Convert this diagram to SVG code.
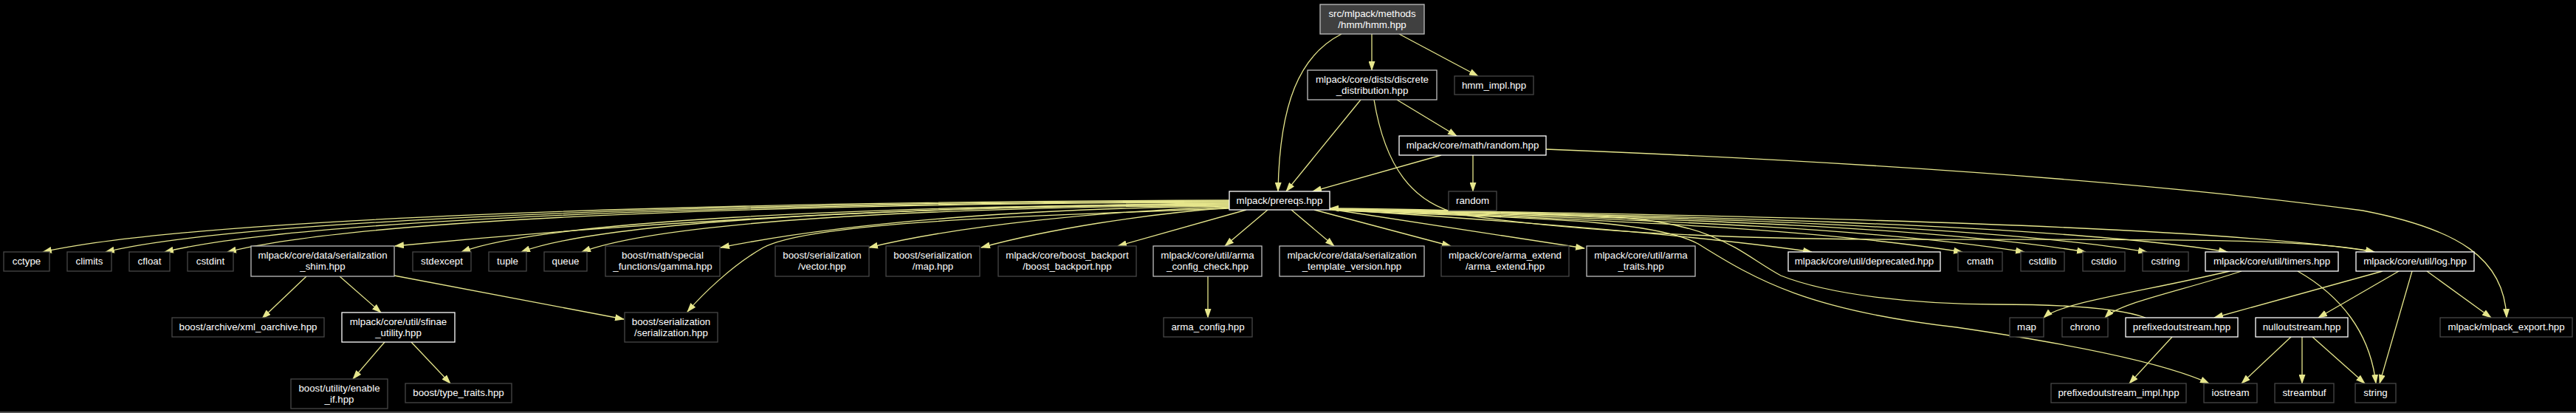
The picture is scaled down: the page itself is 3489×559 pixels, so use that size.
<svg xmlns="http://www.w3.org/2000/svg" width="3489" height="559" viewBox="0 0 3489 559">
<style>
.n rect{fill:#000;stroke-width:1.3}
.w rect{stroke:#ffffff}
.g rect{stroke:#bfbfbf}
.d rect{stroke:#474747}
.top rect{fill:#404040;stroke:#bfbfbf}
text{font-family:"Liberation Sans",Arial,Helvetica,sans-serif;font-size:13.3px;fill:#fff;text-anchor:middle}
#edges path{fill:none;stroke:#e6e68c;stroke-width:1.3;marker-end:url(#ah)}
</style>
<defs>
<marker id="ah" markerWidth="13" markerHeight="9" refX="12" refY="4.5" orient="auto" markerUnits="userSpaceOnUse">
<path d="M0,0 L13,4.5 L0,9 z" fill="#e6e68c"/>
</marker>
</defs>
<rect x="0" y="0" width="3489" height="559" fill="#000"/>
<rect x="0" y="557" width="3489" height="2" fill="#505050"/>

<g id="edges">
<path d="M1858,46 L1858,95"/>
<path d="M1895,46 L2002,103"/>
<path d="M1817,46 C1760,75 1733,140 1731,259"/>
<path d="M1843,135 L1742,259"/>
<path d="M1892,135 L1973,184"/>
<path d="M1861,135 C1875,220 1910,280 1990,292 C2150,315 2350,323 2550,324 C2850,325 3120,320 3216,341"/>
<path d="M1952,210 L1778,259"/>
<path d="M1995,210 L1995,259"/>
<path d="M2094,202 C2500,218 2900,245 3200,285 C3330,310 3392,350 3395,430"/>

<path d="M1665,271 C900,273 250,298 58,341"/>
<path d="M1665,272 C950,274 320,298 143,341"/>
<path d="M1665,273 C980,275 400,298 223,341"/>
<path d="M1665,274 C1000,276 480,298 308,341"/>
<path d="M1665,275 C1100,280 700,317 535,333"/>
<path d="M1665,276 C1150,279 735,300 625,341"/>
<path d="M1665,277 C1200,280 816,300 706,341"/>
<path d="M1665,278 C1250,281 898,300 788,341"/>
<path d="M1665,279 C1400,282 1150,300 976,335"/>
<path d="M1665,280 C1500,285 1300,305 1177,335"/>
<path d="M1665,281 C1550,290 1420,310 1329,335"/>
<path d="M1665,282 C1400,292 1100,300 1034,335 C990,360 950,400 931,422"/>
<path d="M1688,284 L1514,333"/>
<path d="M1717,284 L1659,333"/>
<path d="M1749,284 L1807,333"/>
<path d="M1780,284 L1965,333"/>
<path d="M1801,283 L2146,336"/>
<path d="M1801,283 C2000,296 2300,318 2454,341"/>
<path d="M1801,283 C2150,298 2420,305 2658,341"/>
<path d="M1801,283 C2150,296 2500,303 2742,341"/>
<path d="M1801,283 C2150,294 2580,301 2825,341"/>
<path d="M1801,283 C2150,292 2660,300 2908,341"/>
<path d="M1801,283 C2150,290 2770,300 3017,341"/>
<path d="M1801,283 C2150,288 2970,300 3216,341"/>
<path d="M1801,284 C2000,295 2230,292 2300,330 C2380,380 2450,420 2650,443 C2800,465 2930,490 2992,519"/>
<path d="M2906,430 C2870,417 2800,412 2704,412 C2600,412 2480,400 2412,373 C2360,345 2330,305 2200,295 C2050,285 1900,283 1801,282"/>

<path d="M415,374 L355,431"/>
<path d="M460,374 L516,423"/>
<path d="M534,373 L845,432"/>
<path d="M521,463 L478,513"/>
<path d="M557,463 L610,519"/>
<path d="M1636,374 L1636,430"/>

<path d="M3020,367 C2900,395 2790,410 2768,430"/>
<path d="M3036,367 C2950,395 2870,410 2851,430"/>
<path d="M3112,367 C3170,400 3210,450 3218,519"/>
<path d="M3227,367 L2999,430"/>
<path d="M3249,367 L3140,430"/>
<path d="M3267,367 L3223,519"/>
<path d="M3287,367 L3374,430"/>
<path d="M2942,456 L2884,519"/>
<path d="M3103,456 L3036,519"/>
<path d="M3118,456 L3118,519"/>
<path d="M3132,456 L3203,519"/>
</g>

<g id="n_hmm" class="n top"><rect x="1788" y="6" width="141" height="40"/><text x="1858.5" y="22.5">src/mlpack/methods</text><text x="1858.5" y="37.5">/hmm/hmm.hpp</text></g>
<g id="n_discrete" class="n g"><rect x="1771" y="95" width="175" height="40"/><text x="1858.5" y="111.5">mlpack/core/dists/discrete</text><text x="1858.5" y="126.5">_distribution.hpp</text></g>
<g id="n_hmm_impl" class="n d"><rect x="1970" y="103" width="107" height="25"/><text x="2023.5" y="120">hmm_impl.hpp</text></g>
<g id="n_random_hpp" class="n w"><rect x="1895" y="184" width="199" height="26"/><text x="1994.5" y="201">mlpack/core/math/random.hpp</text></g>
<g id="n_prereqs" class="n w"><rect x="1665" y="259" width="136" height="25"/><text x="1733" y="276">mlpack/prereqs.hpp</text></g>
<g id="n_random" class="n d"><rect x="1962" y="259" width="65" height="26"/><text x="1994.5" y="276">random</text></g>

<g id="n_cctype" class="n d"><rect x="5" y="341" width="62" height="26"/><text x="36" y="358">cctype</text></g>
<g id="n_climits" class="n d"><rect x="91" y="341" width="60" height="26"/><text x="121" y="358">climits</text></g>
<g id="n_cfloat" class="n d"><rect x="175" y="341" width="55" height="26"/><text x="202.5" y="358">cfloat</text></g>
<g id="n_cstdint" class="n d"><rect x="254" y="341" width="62" height="26"/><text x="285" y="358">cstdint</text></g>
<g id="n_shim" class="n g"><rect x="340" y="333" width="194" height="41"/><text x="437" y="349.5">mlpack/core/data/serialization</text><text x="437" y="364.5">_shim.hpp</text></g>
<g id="n_stdexcept" class="n d"><rect x="559" y="341" width="79" height="26"/><text x="598.5" y="358">stdexcept</text></g>
<g id="n_tuple" class="n d"><rect x="662" y="341" width="51" height="26"/><text x="687.5" y="358">tuple</text></g>
<g id="n_queue" class="n d"><rect x="737" y="341" width="58" height="26"/><text x="766" y="358">queue</text></g>
<g id="n_gamma" class="n d"><rect x="820" y="333" width="155" height="41"/><text x="897.5" y="349.5">boost/math/special</text><text x="897.5" y="364.5">_functions/gamma.hpp</text></g>
<g id="n_vector" class="n d"><rect x="1050" y="333" width="127" height="41"/><text x="1113.5" y="349.5">boost/serialization</text><text x="1113.5" y="364.5">/vector.hpp</text></g>
<g id="n_map_hpp" class="n d"><rect x="1200" y="333" width="127" height="41"/><text x="1263.5" y="349.5">boost/serialization</text><text x="1263.5" y="364.5">/map.hpp</text></g>
<g id="n_backport" class="n d"><rect x="1352" y="333" width="187" height="41"/><text x="1445.5" y="349.5">mlpack/core/boost_backport</text><text x="1445.5" y="364.5">/boost_backport.hpp</text></g>
<g id="n_arma_config_check" class="n g"><rect x="1562" y="333" width="147" height="41"/><text x="1635.5" y="349.5">mlpack/core/util/arma</text><text x="1635.5" y="364.5">_config_check.hpp</text></g>
<g id="n_template_version" class="n g"><rect x="1733" y="333" width="196" height="41"/><text x="1831" y="349.5">mlpack/core/data/serialization</text><text x="1831" y="364.5">_template_version.hpp</text></g>
<g id="n_arma_extend" class="n d"><rect x="1952" y="333" width="173" height="41"/><text x="2038.5" y="349.5">mlpack/core/arma_extend</text><text x="2038.5" y="364.5">/arma_extend.hpp</text></g>
<g id="n_arma_traits" class="n g"><rect x="2149" y="333" width="147" height="41"/><text x="2222.5" y="349.5">mlpack/core/util/arma</text><text x="2222.5" y="364.5">_traits.hpp</text></g>
<g id="n_deprecated" class="n w"><rect x="2422" y="341" width="206" height="26"/><text x="2525" y="358">mlpack/core/util/deprecated.hpp</text></g>
<g id="n_cmath" class="n d"><rect x="2652" y="341" width="60" height="26"/><text x="2682" y="358">cmath</text></g>
<g id="n_cstdlib" class="n d"><rect x="2737" y="341" width="59" height="26"/><text x="2766.5" y="358">cstdlib</text></g>
<g id="n_cstdio" class="n d"><rect x="2821" y="341" width="57" height="26"/><text x="2849.5" y="358">cstdio</text></g>
<g id="n_cstring" class="n d"><rect x="2902" y="341" width="62" height="26"/><text x="2933" y="358">cstring</text></g>
<g id="n_timers" class="n w"><rect x="2987" y="341" width="180" height="26"/><text x="3077" y="358">mlpack/core/util/timers.hpp</text></g>
<g id="n_log" class="n w"><rect x="3191" y="341" width="160" height="26"/><text x="3271" y="358">mlpack/core/util/log.hpp</text></g>

<g id="n_xml_oarchive" class="n d"><rect x="233" y="430" width="206" height="26"/><text x="336" y="447">boost/archive/xml_oarchive.hpp</text></g>
<g id="n_sfinae" class="n w"><rect x="463" y="423" width="153" height="40"/><text x="539.5" y="439.5">mlpack/core/util/sfinae</text><text x="539.5" y="454.5">_utility.hpp</text></g>
<g id="n_serialization" class="n d"><rect x="846" y="423" width="126" height="40"/><text x="909" y="439.5">boost/serialization</text><text x="909" y="454.5">/serialization.hpp</text></g>
<g id="n_arma_config" class="n d"><rect x="1576" y="430" width="120" height="26"/><text x="1636" y="447">arma_config.hpp</text></g>
<g id="n_map" class="n d"><rect x="2722" y="430" width="46" height="26"/><text x="2745" y="447">map</text></g>
<g id="n_chrono" class="n d"><rect x="2793" y="430" width="62" height="26"/><text x="2824" y="447">chrono</text></g>
<g id="n_prefixedoutstream" class="n w"><rect x="2879" y="430" width="152" height="26"/><text x="2955" y="447">prefixedoutstream.hpp</text></g>
<g id="n_nulloutstream" class="n w"><rect x="3055" y="430" width="125" height="26"/><text x="3117.5" y="447">nulloutstream.hpp</text></g>
<g id="n_mlpack_export" class="n d"><rect x="3305" y="430" width="179" height="26"/><text x="3394.5" y="447">mlpack/mlpack_export.hpp</text></g>

<g id="n_enable_if" class="n d"><rect x="394" y="513" width="131" height="40"/><text x="459.5" y="529.5">boost/utility/enable</text><text x="459.5" y="544.5">_if.hpp</text></g>
<g id="n_type_traits" class="n d"><rect x="549" y="519" width="144" height="26"/><text x="621" y="536">boost/type_traits.hpp</text></g>
<g id="n_prefixedoutstream_impl" class="n d"><rect x="2778" y="519" width="183" height="26"/><text x="2869.5" y="536">prefixedoutstream_impl.hpp</text></g>
<g id="n_iostream" class="n d"><rect x="2985" y="519" width="72" height="26"/><text x="3021" y="536">iostream</text></g>
<g id="n_streambuf" class="n d"><rect x="3081" y="519" width="80" height="26"/><text x="3121" y="536">streambuf</text></g>
<g id="n_string" class="n d"><rect x="3190" y="519" width="55" height="26"/><text x="3217.5" y="536">string</text></g>
</svg>
